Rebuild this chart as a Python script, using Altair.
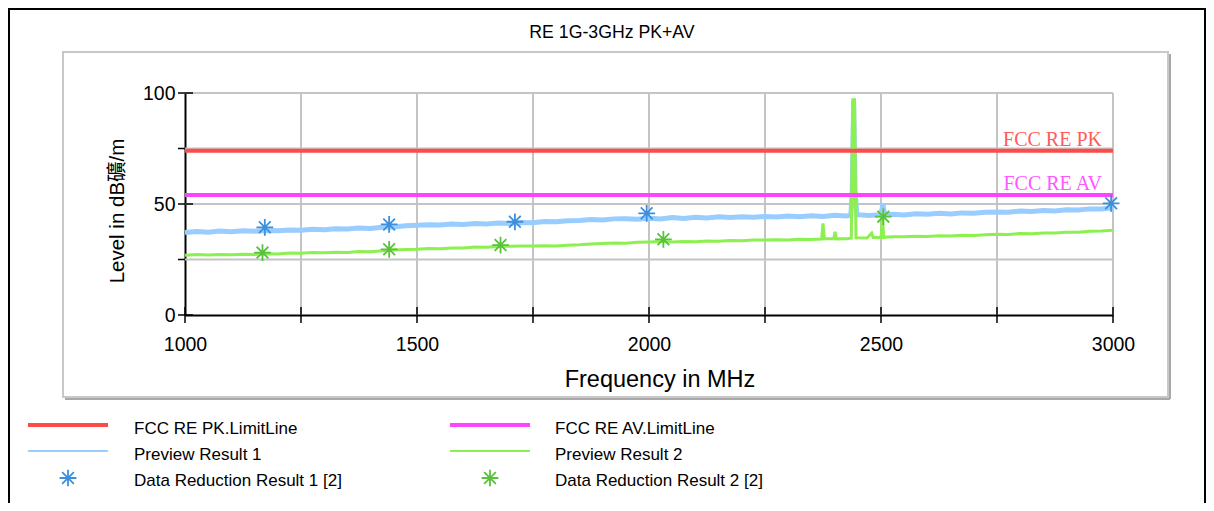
import altair as alt
import pandas as pd

# ---------------- data ----------------
TITLE = "RE 1G-3GHz PK+AV"
Y_TITLE = "Level in dB礦/m"
X_TITLE = "Frequency in MHz"

pr1_freq = [1000, 1025, 1050, 1075, 1100, 1125, 1150, 1175, 1200, 1225, 1250, 1275, 1300, 1325,
            1350, 1375, 1400, 1425, 1450, 1475, 1500, 1525, 1550, 1575, 1600, 1625, 1650, 1675,
            1700, 1725, 1750, 1775, 1800, 1825, 1850, 1875, 1900, 1925, 1950, 1975, 2000, 2025,
            2050, 2075, 2100, 2125, 2150, 2175, 2200, 2225, 2250, 2275, 2300, 2325, 2350, 2375,
            2400, 2425, 2435, 2438, 2441, 2444, 2448, 2475, 2500, 2504, 2508, 2525, 2550, 2575,
            2600, 2625, 2650, 2675, 2700, 2725, 2750, 2775, 2800, 2825, 2850, 2875, 2900, 2925,
            2950, 2975, 3000]
pr1_level = [37.2, 37.6, 37.3, 37.8, 37.5, 37.9, 37.7, 38.1, 37.9, 38.3, 38.2, 38.6, 38.4, 38.8,
             38.7, 39.2, 39.0, 39.5, 39.6, 40.2, 40.4, 40.7, 40.5, 41.0, 40.8, 41.2, 41.0, 41.4,
             41.2, 41.7, 41.6, 42.1, 42.0, 42.5, 42.6, 43.0, 42.8, 43.3, 43.4, 43.1, 43.6, 43.3,
             43.9, 43.5, 44.0, 43.7, 44.2, 43.9, 44.3, 44.0, 44.4, 44.1, 44.6, 44.3, 44.7, 44.4,
             44.9, 44.6, 45.0, 56.0, 96.0, 56.0, 45.2, 44.8, 45.2, 50.0, 45.0, 45.4, 45.1, 45.6,
             45.4, 45.8, 45.5, 46.0, 45.8, 46.3, 46.4, 46.3, 46.8, 46.6, 47.1, 46.9, 47.4, 47.3,
             47.8, 47.7, 48.3]

pr2_freq = [1000, 1025, 1050, 1075, 1100, 1125, 1150, 1175, 1200, 1225, 1250, 1275, 1300, 1325,
            1350, 1375, 1400, 1425, 1450, 1475, 1500, 1525, 1550, 1575, 1600, 1625, 1650, 1675,
            1700, 1725, 1750, 1775, 1800, 1825, 1850, 1875, 1900, 1925, 1950, 1975, 2000, 2025,
            2050, 2075, 2100, 2125, 2150, 2175, 2200, 2225, 2250, 2275, 2300, 2325, 2350, 2372,
            2375, 2378, 2398, 2401, 2404, 2425, 2436, 2439, 2443, 2446, 2470, 2480, 2483, 2500,
            2503, 2506, 2525, 2550, 2575, 2600, 2625, 2650, 2675, 2700, 2725, 2750, 2775, 2800,
            2825, 2850, 2875, 2900, 2925, 2950, 2975, 3000]
pr2_level = [26.9, 27.2, 27.0, 27.3, 27.1, 27.4, 27.2, 27.6, 27.5, 27.9, 27.8, 28.1, 28.0, 28.3,
             28.2, 28.6, 28.5, 28.9, 29.3, 29.5, 29.6, 29.9, 29.8, 30.2, 30.2, 30.6, 30.5, 30.9,
             31.0, 31.1, 31.1, 31.2, 31.1, 31.4, 31.6, 32.0, 32.2, 32.4, 32.3, 32.8, 32.9, 33.1,
             32.9, 33.1, 33.0, 33.3, 33.2, 33.6, 33.5, 33.8, 33.8, 33.9, 33.8, 34.1, 34.0, 34.2,
             41.3, 34.3, 34.3, 37.5, 34.3, 34.4, 34.6, 97.0, 97.0, 34.8, 34.7, 36.9, 34.9, 34.9,
             44.0, 35.0, 35.3, 35.2, 35.5, 35.4, 35.7, 35.6, 35.9, 35.8, 36.1, 36.4, 36.3, 36.7,
             36.6, 36.9, 36.9, 37.3, 37.3, 37.7, 37.8, 38.2]

dr1_freq = [1172, 1440, 1711, 1995, 2996]
dr1_level = [39.5, 40.8, 42.0, 45.8, 50.3]
dr2_freq = [1167, 1440, 1680, 2031, 2505]
dr2_level = [28.1, 29.6, 31.5, 34.1, 44.3]

limit_names = ["FCC RE PK", "FCC RE AV"]
limit_levels = [74, 54]

legend_left = ["FCC RE PK.LimitLine", "Preview Result 1", "Data Reduction Result 1 [2]"]
legend_right = ["FCC RE AV.LimitLine", "Preview Result 2", "Data Reduction Result 2 [2]"]

x_ticks = [1000, 1250, 1500, 1750, 2000, 2250, 2500, 2750, 3000]
x_grid = [1250, 1500, 1750, 2000, 2250, 2500, 2750, 3000]
x_labels = [1000, 1500, 2000, 2500, 3000]
y_grid = [25, 50, 75, 100]
y_major = [0, 50, 100]
y_minor = [25, 75]

# ---------------- styles ----------------
W, H = 928, 222
FONT = "Liberation Sans, Noto Sans CJK TC"
RED = "#ff4a4a"
MAG = "#ff44ff"
BLUE_L = "#99ccff"
GREEN_L = "#8cf050"
BLUE_M = "#3b8fdc"
GREEN_M = "#58c23a"
GRID = "#c4c4c4"
AST = "M0,-1L0,1M-1,0L1,0M-0.7,-0.7L0.7,0.7M-0.7,0.7L0.7,-0.7"

xs = alt.Scale(domain=[1000, 3000], nice=False, zero=False)
ys = alt.Scale(domain=[0, 100], nice=False)

xaxis = alt.Axis(values=x_labels, title=None, grid=False, ticks=False, tickSize=0, domain=True,
                 domainColor="black", domainWidth=2, labelFont=FONT, labelFontSize=19.5,
                 labelColor="black", labelPadding=20, labelFlush=False, labelOverlap=False,
                 format="d")
yaxis = alt.Axis(values=y_major, title=None, grid=False, ticks=False, tickSize=0, domain=True,
                 domainColor="black", domainWidth=2, labelFont=FONT, labelFontSize=19.5,
                 labelColor="black", labelPadding=10, labelFlush=False, labelOverlap=False,
                 format="d")


def X(field):
    return alt.X(field, scale=xs, axis=xaxis)


def Y(field):
    return alt.Y(field, scale=ys, axis=yaxis)


one = alt.Data(values=[{"k": 1}])


def hrule(y, x1, x2, color, w):
    return alt.Chart(one).mark_rule(color=color, strokeWidth=w).encode(
        x=alt.value(x1), x2=alt.value(x2), y=alt.value(y))


def vrule(x, y1, y2, color, w):
    return alt.Chart(one).mark_rule(color=color, strokeWidth=w).encode(
        x=alt.value(x), y=alt.value(y1), y2=alt.value(y2))


def label(txt, x, y, size, align="left", angle=0, color="black", font=FONT):
    return alt.Chart(one).mark_text(text=txt, font=font, fontSize=size, align=align,
                                    baseline="middle", angle=angle, color=color).encode(
        x=alt.value(x), y=alt.value(y))


layers = []

# grid (first layer carries the axes)
layers.append(alt.Chart(pd.DataFrame({"f": x_grid})).mark_rule(color=GRID, strokeWidth=2).encode(
    x=X("f:Q")))
layers.append(alt.Chart(pd.DataFrame({"v": y_grid})).mark_rule(color=GRID, strokeWidth=2).encode(
    y=Y("v:Q")))

# panel and frame
layers.append(vrule(985, -39, 306, "#a8a8a8", 2))
layers.append(hrule(306, -120, 985, "#a8a8a8", 2))
layers.append(alt.Chart(one).mark_rect(filled=False, stroke="#c8c8c8", strokeWidth=2).encode(
    x=alt.value(-122), x2=alt.value(983), y=alt.value(-41), y2=alt.value(304)))
layers.append(vrule(-176, -85, 430, "black", 2))
layers.append(hrule(-84, -177, 1021, "black", 2))
layers.append(vrule(1020, -85, 430, "black", 2))

# traces
layers.append(alt.Chart(pd.DataFrame({"f": pr1_freq, "v": pr1_level})).mark_line(
    color=BLUE_L, strokeWidth=5).encode(x=X("f:Q"), y=Y("v:Q")))
layers.append(alt.Chart(pd.DataFrame({"f": pr2_freq, "v": pr2_level})).mark_line(
    color=GREEN_L, strokeWidth=3).encode(x=X("f:Q"), y=Y("v:Q")))

# limit lines and labels
lim = pd.DataFrame({"name": limit_names, "v": limit_levels})
lcol = alt.Color("name:N", scale=alt.Scale(domain=limit_names, range=[RED, MAG]), legend=None)
layers.append(alt.Chart(lim).mark_rule(strokeWidth=4).encode(y=Y("v:Q"), color=lcol))
layers.append(alt.Chart(lim).mark_text(align="right", baseline="alphabetic", dy=-5,
                                       font="Liberation Serif", fontSize=20, opacity=0.9).encode(
    y=Y("v:Q"), x=alt.value(917), text="name:N", color=lcol))

# data reduction markers
layers.append(alt.Chart(pd.DataFrame({"f": dr1_freq, "v": dr1_level})).mark_point(
    shape=AST, size=280, filled=False, strokeWidth=1.8, color=BLUE_M, opacity=1).encode(
    x=X("f:Q"), y=Y("v:Q")))
layers.append(alt.Chart(pd.DataFrame({"f": dr2_freq, "v": dr2_level})).mark_point(
    shape=AST, size=280, filled=False, strokeWidth=1.8, color=GREEN_M, opacity=1).encode(
    x=X("f:Q"), y=Y("v:Q")))

# ticks
layers.append(alt.Chart(pd.DataFrame({"f": x_ticks})).mark_rule(color="black", strokeWidth=1.5).encode(
    x=X("f:Q"), y=alt.value(H - 8), y2=alt.value(H + 8)))
layers.append(alt.Chart(pd.DataFrame({"v": y_major})).mark_rule(color="black", strokeWidth=1.5).encode(
    y=Y("v:Q"), x=alt.value(-7), x2=alt.value(8)))
layers.append(alt.Chart(pd.DataFrame({"v": y_minor})).mark_rule(color="black", strokeWidth=1.5).encode(
    y=Y("v:Q"), x=alt.value(-7), x2=alt.value(0)))

# titles
layers.append(label(TITLE, 427, -60, 17.7, align="center"))
layers.append(label(Y_TITLE, -67, 118, 20.5, align="center", angle=270))
layers.append(label(X_TITLE, 475, 287, 23.5, align="center"))

# legend
rows = [336, 362, 388]
layers.append(hrule(332, -157, -77, RED, 4))
layers.append(hrule(332, 265, 345, MAG, 4))
layers.append(hrule(358, -157, -77, BLUE_L, 2))
layers.append(hrule(358, 265, 345, GREEN_L, 2))
layers.append(alt.Chart(one).mark_point(shape=AST, size=280, filled=False, strokeWidth=1.8,
                                        color=BLUE_M, opacity=1).encode(
    x=alt.value(-117), y=alt.value(385)))
layers.append(alt.Chart(one).mark_point(shape=AST, size=280, filled=False, strokeWidth=1.8,
                                        color=GREEN_M, opacity=1).encode(
    x=alt.value(305), y=alt.value(385)))
for i in range(3):
    layers.append(label(legend_left[i], -51, rows[i], 17))
    layers.append(label(legend_right[i], 370, rows[i], 17))

chart = alt.layer(*layers).properties(
    width=W, height=H,
    autosize=alt.AutoSizeParams(type="none"),
    padding={"left": 177, "top": 85, "right": 93, "bottom": 188},
    background="white",
).configure_view(stroke="transparent")

chart.save("out.html", embed_options={"renderer": "svg", "actions": False})
